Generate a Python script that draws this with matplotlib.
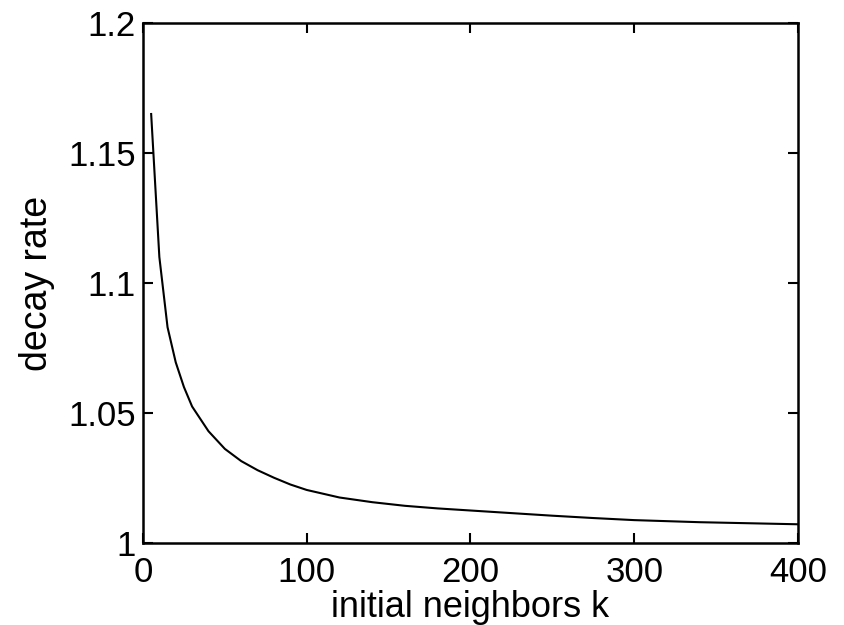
import matplotlib
matplotlib.use("Agg")
import matplotlib.pyplot as plt

# decay rate vs. number of initial neighbors
k = [5, 10, 15, 20, 25, 30, 40, 50, 60, 70, 80, 90, 100, 120, 140, 160,
     180, 200, 220, 250, 275, 300, 340, 370, 400]
decay = [1.165, 1.110, 1.083, 1.0695, 1.0600, 1.0525, 1.0430, 1.0362, 1.0315,
         1.0280, 1.0251, 1.0225, 1.0204, 1.0175, 1.0157, 1.0143,
         1.0133, 1.0125, 1.0117, 1.0105, 1.0096, 1.0088, 1.0080, 1.0076, 1.0072]

xticks = [0, 100, 200, 300, 400]
yticks = [1, 1.05, 1.1, 1.15, 1.2]
yticklabels = ["1", "1.05", "1.1", "1.15", "1.2"]

plt.rcParams['font.family'] = ['Liberation Sans', 'DejaVu Sans']

fig = plt.figure(figsize=(8.44, 6.25), dpi=100)
ax = fig.add_axes([0.1694, 0.1312, 0.7761, 0.8320])

ax.plot(k, decay, color='black', linewidth=1.5)

ax.set_xlim(0, 400)
ax.set_ylim(1, 1.2)
ax.set_xticks(xticks)
ax.set_yticks(yticks)
ax.set_yticklabels(yticklabels)
ax.tick_params(direction='in', length=7, width=1.5, top=True, right=True,
               labelsize=25)
ax.tick_params(axis='y', pad=5)
ax.tick_params(axis='x', pad=9)
for s in ax.spines.values():
    s.set_linewidth(1.8)

ax.set_xlabel('initial neighbors k', fontsize=26, labelpad=1)
ax.set_ylabel('decay rate', fontsize=27, labelpad=10)

fig.savefig('out.png', dpi=100)
